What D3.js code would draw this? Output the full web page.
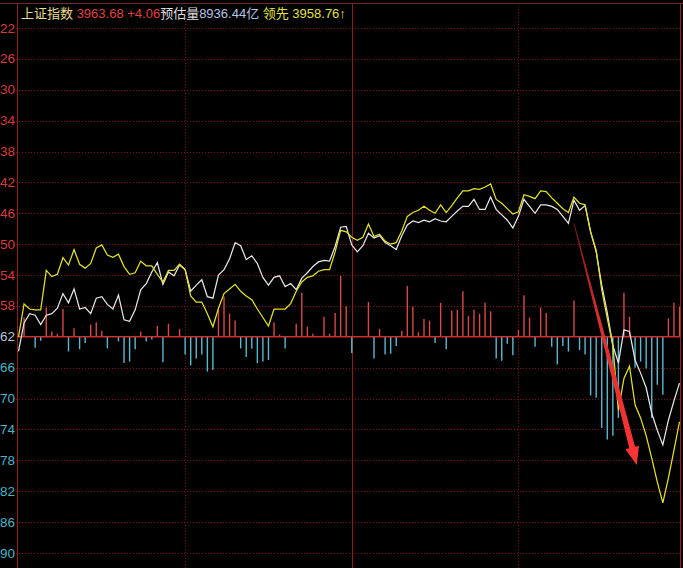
<!DOCTYPE html>
<html>
<head>
<meta charset="utf-8">
<script src="https://cdn.jsdelivr.net/npm/d3@7"></script>
<style>
  html, body { margin: 0; padding: 0; background: #000; }
  svg { display: block; }
</style>
</head>
<body>
<script>
// y tick labels (last two digits of price levels)
const yTicks = [22, 26, 30, 34, 38, 42, 46, 50, 54, 58, 62, 66, 70, 74, 78, 82, 86, 90];
const baseLevel = 62;

// index line (white) and leading index (yellow), 120 samples, in tick units
const indexLine = [63.9,60.2,59.0,59.2,60.4,59.2,59.0,58.3,56.4,57.6,
  55.8,58.4,58.2,59.0,57.0,56.8,57.8,58.4,56.6,59.8,
  60.0,58.5,55.9,55.1,53.6,52.4,55.2,53.6,54.1,52.7,
  53.3,56.1,55.3,54.6,56.8,57.0,54.0,53.3,51.9,49.8,
  50.2,52.0,51.5,52.5,54.3,55.3,54.3,54.1,55.5,55.1,
  55.9,54.4,53.7,52.9,52.3,52.1,52.2,50.3,47.8,47.7,
  50.1,51.0,50.2,48.6,49.2,48.9,49.8,50.2,50.7,48.9,
  47.5,47.0,47.2,46.9,47.1,46.7,47.0,47.1,46.4,45.7,
  45.1,45.1,44.2,45.5,45.5,43.9,45.5,46.2,46.9,47.9,
  46.4,44.2,45.1,46.0,44.9,44.9,45.1,45.5,46.4,47.3,
  44.3,45.6,45.0,48.4,51.0,55.3,58.9,63.1,65.4,61.1,
  61.3,65.0,66.7,68.6,71.9,74.1,76.0,72.8,70.3,68.0];

const leadLine = [62.0,57.75,58.4,58.5,58.5,53.4,54.2,53.9,51.75,52.7,
  50.7,52.6,53.1,52.5,50.5,50.1,51.4,51.7,51.3,52.9,
  53.9,53.7,52.2,52.8,52.8,53.9,54.9,53.4,53.4,52.6,
  53.3,56.7,57.5,57.5,59.0,60.7,58.3,56.4,55.8,55.2,
  56.1,56.7,57.2,58.4,59.5,60.6,58.4,58.4,58.4,57.7,
  56.1,54.9,54.3,54.1,53.5,53.3,53.3,51.0,48.2,48.4,
  49.1,49.5,49.1,47.4,49.0,48.7,49.6,50.0,49.8,48.3,
  46.4,45.9,45.6,45.1,45.6,46.0,44.9,45.9,45.0,44.0,
  43.1,43.1,42.8,42.9,42.6,42.2,44.2,44.7,45.4,46.1,
  45.8,43.6,43.8,44.1,43.1,43.2,44.0,44.7,45.4,45.9,
  43.9,44.7,44.9,48.4,50.8,55.9,59.6,63.1,71.5,67.4,
  65.8,70.8,72.5,74.8,77.7,80.8,83.5,80.3,76.7,73.0];

// buy/sell strength bars (positive red, negative cyan)
const flow = [0,2.5,0,-1.4,-0.5,3.8,0.7,0.4,3.6,-1.9,
  1.1,-1.6,-0.8,1.6,1.9,0.8,-1.5,0,-0.6,-3.4,
  -3.2,-1.6,0.7,-0.6,-0.35,1.4,-3.3,1.7,0,1.0,
  -2.3,-3.7,-2.8,-2.3,-4.5,-4.3,3.5,5.2,3.0,2.1,
  -1.5,-2.6,-1.55,-3.4,-3.2,-3.0,1.9,0.3,-1.5,0,
  1.7,5.7,1.3,0.4,0,2.6,0.4,3.1,7.9,4.0,
  -2.1,0,0,4.5,-2.8,1.0,-2.3,-2.2,-1.2,0.75,
  6.6,3.9,0.6,2.3,2.1,-0.8,4.4,-1.6,3.4,3.5,
  5.9,2.7,3.5,3.0,4.4,3.3,-2.8,-3.1,-0.9,-2.4,
  0.9,5.4,2.5,-1.3,3.8,3.1,-1.3,-3.6,-1.2,-1.9,
  4.7,-1.7,-2.3,-7.6,-7.9,-11.8,-13.3,-12.8,-10.5,5.7,
  2.6,-4.0,-3.2,-4.1,-10.5,-6.2,-7.5,2.4,4.4,3.9];

// session dividers (sample index)
const dividers = [30, 60, 90];

// hand-drawn arrow annotation: [index, level]
const arrowFrom = [100, 47.3];
const arrowTo = [111.3, 78.6];

const W = 683, H = 568;
const frame = { left: 17, right: 680, top: 3 };

const x = d3.scaleLinear().domain([0, leadLine.length - 1]).range([18.5, 679.5]);
const y = d3.scaleLinear().domain([22, 90]).range([28, 553]);
const barLen = d3.scaleLinear().domain([0, 1]).range([0, y(23) - y(22)]);

const svg = d3.select('body').append('svg')
  .attr('width', W)
  .attr('height', H)
  .style('background', '#000');

const gridColor = '#7a1616';

// horizontal grid
svg.append('g')
  .selectAll('line')
  .data(yTicks.filter(d => d !== baseLevel))
  .enter().append('line')
  .attr('x1', 13)
  .attr('x2', frame.right)
  .attr('y1', d => Math.round(y(d)) + 0.5)
  .attr('y2', d => Math.round(y(d)) + 0.5)
  .attr('stroke', gridColor)
  .attr('stroke-dasharray', '1,2');

// vertical dividers
svg.append('g')
  .selectAll('line')
  .data(dividers)
  .enter().append('line')
  .attr('x1', d => Math.round(x(d)) + 0.5)
  .attr('x2', d => Math.round(x(d)) + 0.5)
  .attr('y1', frame.top)
  .attr('y2', H)
  .attr('stroke', (d, i) => (i === 1 ? '#8a1c1c' : gridColor))
  .attr('stroke-dasharray', (d, i) => (i === 1 ? null : '1,2'));

// frame
svg.append('line')
  .attr('x1', 0).attr('x2', W)
  .attr('y1', frame.top + 0.5).attr('y2', frame.top + 0.5)
  .attr('stroke', '#6a2a2a');
svg.append('line')
  .attr('x1', frame.left + 0.5).attr('x2', frame.left + 0.5)
  .attr('y1', frame.top).attr('y2', H)
  .attr('stroke', '#9a1c1c');
svg.append('line')
  .attr('x1', frame.right + 0.5).attr('x2', frame.right + 0.5)
  .attr('y1', frame.top).attr('y2', H)
  .attr('stroke', '#9a1c1c');

// y labels
svg.append('g')
  .selectAll('text')
  .data(yTicks)
  .enter().append('text')
  .attr('x', 15)
  .attr('y', d => y(d))
  .attr('text-anchor', 'end')
  .attr('dominant-baseline', 'central')
  .attr('font-family', 'Liberation Sans, Arial, sans-serif')
  .attr('font-size', 13.5)
  .attr('fill', d => (d < baseLevel ? '#d83a3a' : d === baseLevel ? '#b8c4d8' : '#48b4c8'))
  .text(d => d);

// flow bars
const base = y(baseLevel);
svg.append('g')
  .selectAll('line')
  .data(flow.map((v, i) => ({ i, v })).filter(d => d.v !== 0))
  .enter().append('line')
  .attr('x1', d => x(d.i))
  .attr('x2', d => x(d.i))
  .attr('y1', base)
  .attr('y2', d => (d.v > 0 ? base - barLen(d.v) : base + barLen(-d.v)))
  .attr('stroke', d => (d.v > 0 ? '#d94848' : '#5cb8d0'))
  .attr('stroke-width', 1.4);

// base line
svg.append('line')
  .attr('x1', frame.left)
  .attr('x2', frame.right)
  .attr('y1', base)
  .attr('y2', base)
  .attr('stroke', '#cc3030')
  .attr('stroke-width', 1.6);

const line = d3.line()
  .x((d, i) => x(i))
  .y(d => y(d));

svg.append('path')
  .datum(indexLine)
  .attr('d', line)
  .attr('fill', 'none')
  .attr('stroke', '#e6e6e6')
  .attr('stroke-width', 1.25);

svg.append('path')
  .datum(leadLine)
  .attr('d', line)
  .attr('fill', 'none')
  .attr('stroke', '#e2e22a')
  .attr('stroke-width', 1.25);

// arrow annotation
const p0 = [x(arrowFrom[0]), y(arrowFrom[1])];
const p1 = [x(arrowTo[0]), y(arrowTo[1])];
const dx = p1[0] - p0[0], dy = p1[1] - p0[1];
const len = Math.hypot(dx, dy);
const u = [dx / len, dy / len];
const n = [-u[1], u[0]];
const headLen = 18, headHalf = 7;
const hb = [p1[0] - u[0] * headLen, p1[1] - u[1] * headLen];
const pt = (p, k) => [p[0] + n[0] * k, p[1] + n[1] * k];
const arrowPts = [pt(p0, 0.5), pt(hb, 3), pt(hb, headHalf), p1, pt(hb, -headHalf), pt(hb, -3), pt(p0, -0.5)];

const grad = svg.append('defs').append('linearGradient')
  .attr('id', 'arrowGrad')
  .attr('gradientUnits', 'userSpaceOnUse')
  .attr('x1', p0[0]).attr('y1', p0[1])
  .attr('x2', p1[0]).attr('y2', p1[1]);
grad.append('stop').attr('offset', '0%').attr('stop-color', '#701818');
grad.append('stop').attr('offset', '40%').attr('stop-color', '#d83030');
grad.append('stop').attr('offset', '100%').attr('stop-color', '#ff3434');

svg.append('polygon')
  .attr('points', arrowPts.map(p => p.join(',')).join(' '))
  .attr('fill', 'url(#arrowGrad)');

// header
const header = svg.append('text')
  .attr('x', 21)
  .attr('y', 18)
  .attr('font-family', 'Liberation Sans, Noto Sans CJK SC, sans-serif')
  .attr('font-size', 13);
header.append('tspan').attr('fill', '#e8dc8c').text('上证指数 ');
header.append('tspan').attr('fill', '#e04040').text('3963.68 +4.06');
header.append('tspan').attr('fill', '#dcdcdc').text('预估量');
header.append('tspan').attr('fill', '#b4c4e0').text('8936.44亿 ');
header.append('tspan').attr('fill', '#e4e040').text('领先 3958.76↑');
</script>
</body>
</html>
